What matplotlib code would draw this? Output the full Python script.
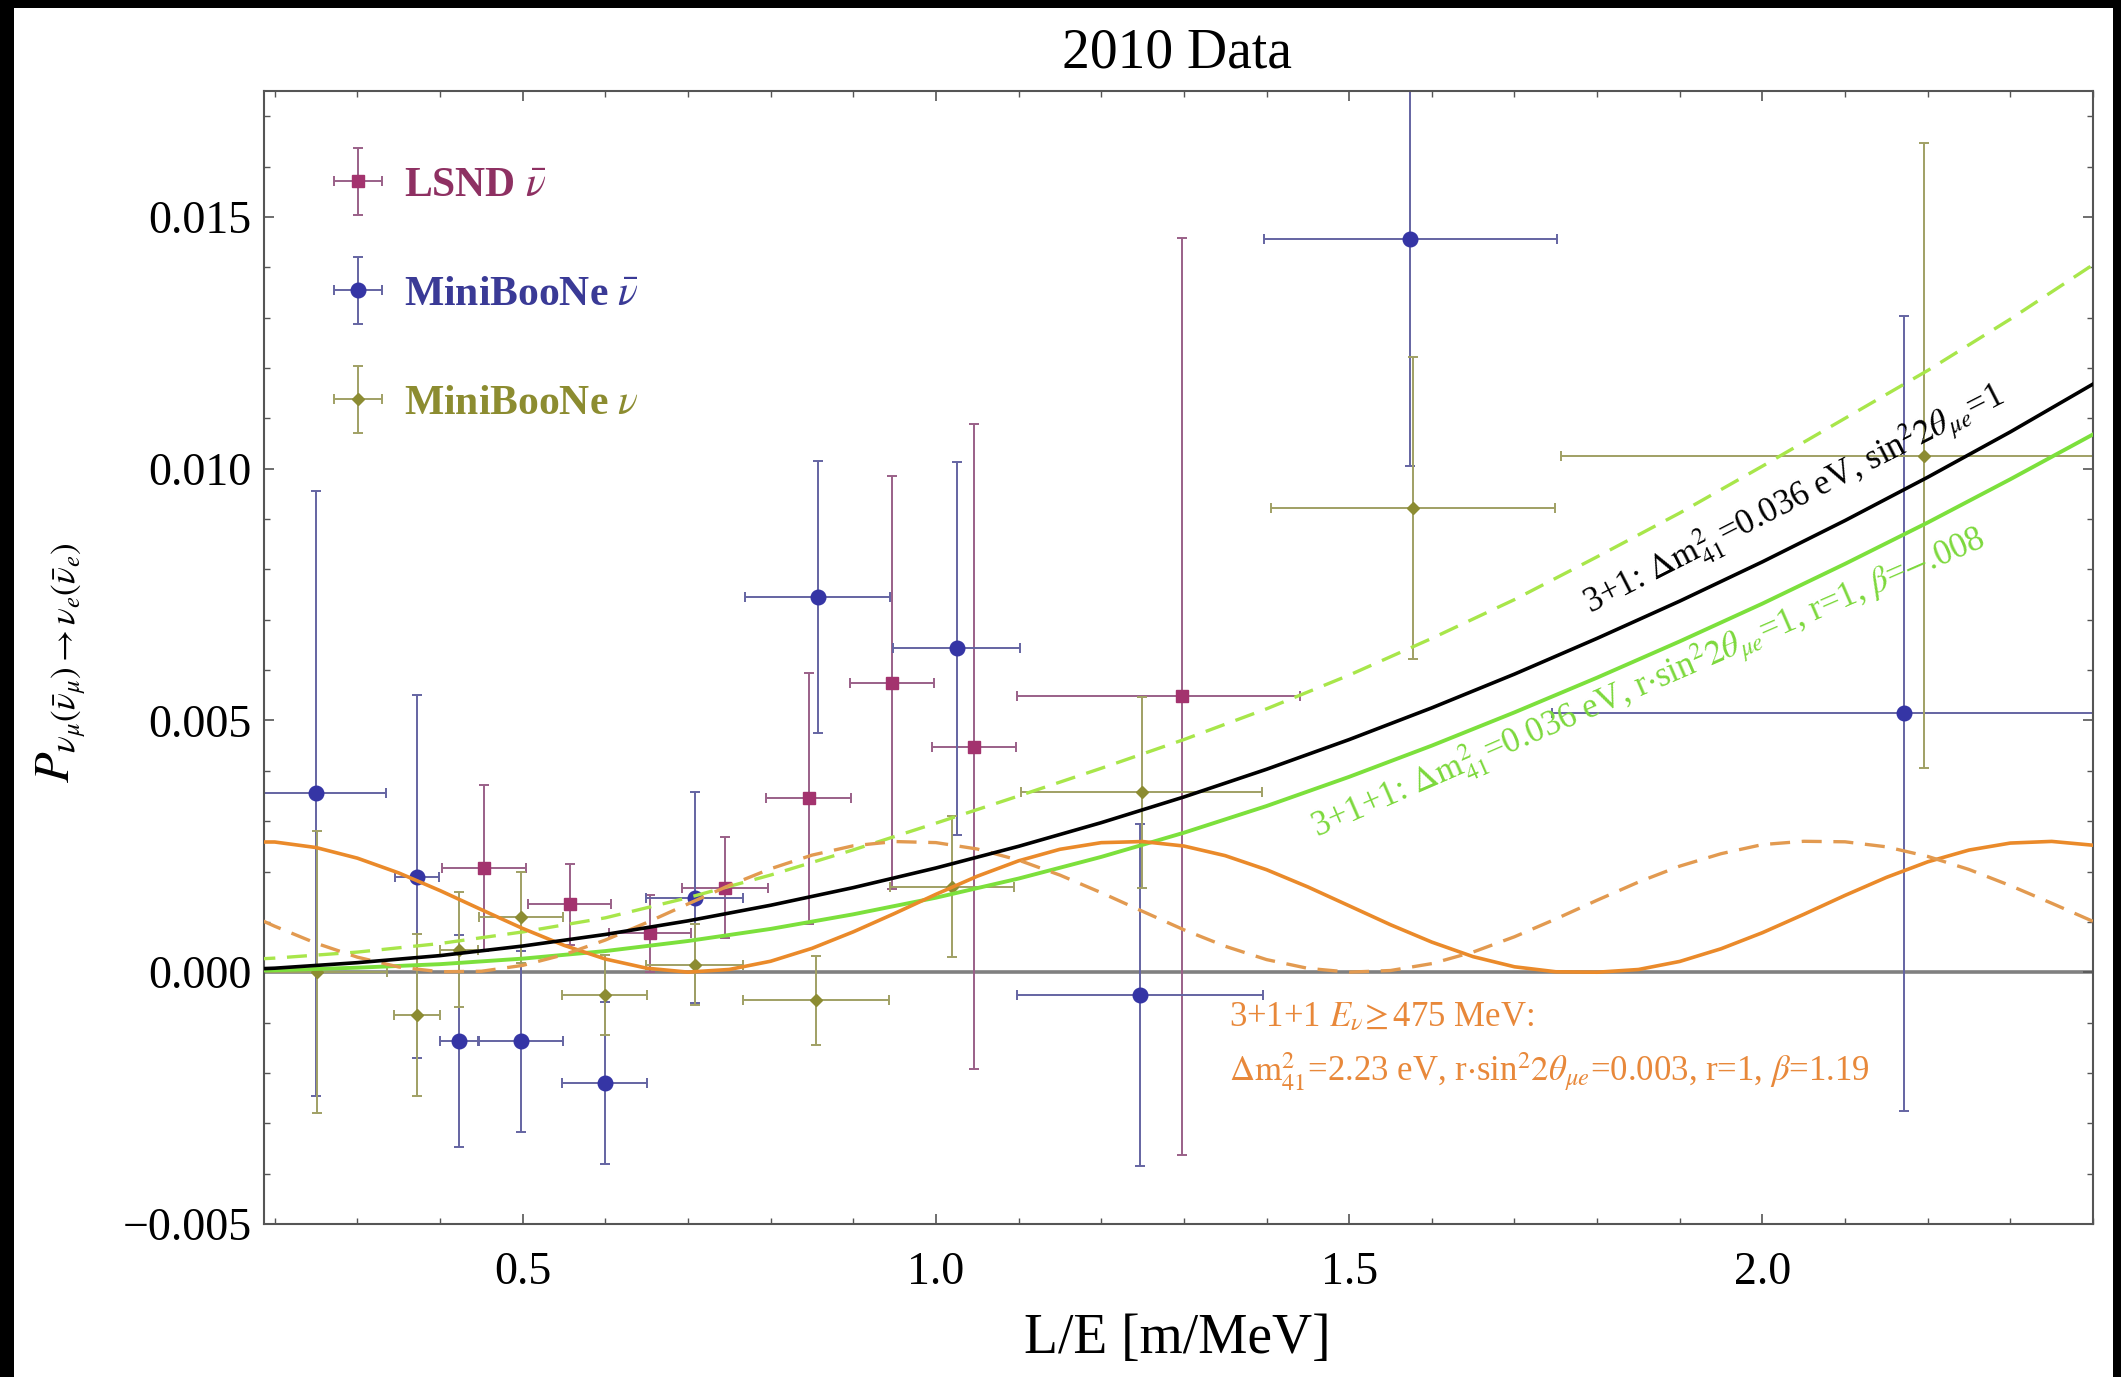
import matplotlib
matplotlib.use("Agg")
import matplotlib.pyplot as plt
import numpy as np
from matplotlib.patches import Rectangle
from matplotlib.ticker import MultipleLocator, FixedLocator, FuncFormatter, FormatStrFormatter
from matplotlib.legend_handler import HandlerErrorbar
from matplotlib.container import ErrorbarContainer

plt.rcParams['font.family'] = ['Liberation Serif', 'DejaVu Serif']
plt.rcParams['mathtext.fontset'] = 'stix'

# LSND anti-neutrino points
lsnd_le = [0.453, 0.557, 0.654, 0.745, 0.846, 0.947, 1.046, 1.298]
lsnd_p = [0.00207, 0.00135, 0.00077, 0.00168, 0.00345, 0.00575, 0.00448, 0.00548]
lsnd_dle_lo = [0.051, 0.050, 0.050, 0.052, 0.051, 0.051, 0.051, 0.200]
lsnd_dle_hi = [0.051, 0.050, 0.050, 0.052, 0.051, 0.051, 0.051, 0.143]
lsnd_dp = [0.00165, 0.0008, 0.00076, 0.0010, 0.0025, 0.0041, 0.0064, 0.0091]

# MiniBooNE anti-neutrino points
mbbar_le = [0.250, 0.372, 0.423, 0.498, 0.599, 0.708, 0.857, 1.025, 1.247, 1.574, 2.171]
mbbar_p = [0.00355, 0.0019, -0.00137, -0.00137, -0.0022, 0.00148, 0.00746, 0.00643,
           -0.00045, 0.01456, 0.00514]
mbbar_dle = [0.085, 0.027, 0.023, 0.051, 0.051, 0.059, 0.088, 0.077, 0.149, 0.177, 0.425]
mbbar_dp = [0.006, 0.0036, 0.0021, 0.0018, 0.0016, 0.0021, 0.0027, 0.0037, 0.0034, 0.0045, 0.0079]

# MiniBooNE neutrino points
mbnu_le = [0.251, 0.372, 0.423, 0.498, 0.599, 0.708, 0.855, 1.020, 1.249, 1.577, 2.196]
mbnu_p = [0.0, -0.00085, 0.00045, 0.00109, -0.00045, 0.00015, -0.00056, 0.0017,
          0.00357, 0.00922, 0.01026]
mbnu_dle = [0.085, 0.028, 0.023, 0.051, 0.051, 0.059, 0.088, 0.075, 0.146, 0.172, 0.44]
mbnu_dp = [0.0028, 0.0016, 0.00115, 0.0009, 0.0008, 0.0008, 0.00088, 0.0014, 0.0019, 0.003, 0.0062]

# model curves
le_smooth = np.linspace(0.1, 2.4, 24)
p_31 = [0.00002, 0.00008, 0.00019, 0.00033, 0.00052, 0.00075, 0.00102, 0.00133,
        0.00168, 0.00207, 0.00250, 0.00297, 0.00348, 0.00403, 0.00462, 0.00525,
        0.00592, 0.00663, 0.00737, 0.00815, 0.00897, 0.00983, 0.01073, 0.01168]
p_311_green = [0.00001, 0.00004, 0.00009, 0.00016, 0.00027, 0.00042, 0.00062, 0.00086,
               0.00115, 0.00148, 0.00186, 0.00229, 0.00277, 0.00330, 0.00388, 0.00450,
               0.00516, 0.00585, 0.00657, 0.00732, 0.00811, 0.00893, 0.00979, 0.01068]
p_311_green_dash = [0.00020, 0.00028, 0.00040, 0.00057, 0.00080, 0.00108, 0.00148, 0.00193,
                    0.00243, 0.00296, 0.00350, 0.00405, 0.00462, 0.00523, 0.00590, 0.00663,
                    0.00740, 0.00825, 0.00912, 0.01005, 0.01100, 0.01195, 0.01297, 0.01405]

le_osc = np.linspace(0.15, 2.4, 46)
p_311_orange = [0.002586, 0.002586, 0.002476, 0.002265, 0.001972, 0.001621, 0.001243, 0.000869,
                0.000534, 0.000262, 0.000080, 0.000002, 0.000055, 0.000218, 0.000474, 0.000802,
                0.001167, 0.001547, 0.001906, 0.002212, 0.002441, 0.002573, 0.002595, 0.002506,
                0.002315, 0.002036, 0.001694, 0.001319, 0.000943, 0.000598, 0.000309, 0.000108,
                0.000009, 0.000000, 0.000054, 0.000214, 0.000466, 0.000785, 0.001149, 0.001526,
                0.001883, 0.002192, 0.002426, 0.002565, 0.002598, 0.002522]
p_311_orange_dash = [0.001281, 0.000913, 0.000576, 0.000299, 0.000104, 0.000009, 0.000019, 0.000136,
                     0.000348, 0.000639, 0.000985, 0.001356, 0.001724, 0.002055, 0.002325, 0.002511,
                     0.002595, 0.002574, 0.002447, 0.002226, 0.001929, 0.001580, 0.001209, 0.000843,
                     0.000516, 0.000251, 0.000077, 0.000002, 0.000034, 0.000171, 0.000401, 0.000704,
                     0.001057, 0.001430, 0.001790, 0.002107, 0.002354, 0.002535, 0.002600, 0.002590,
                     0.002490, 0.002300, 0.002040, 0.001720, 0.001370, 0.001010]

y_ticks = [-0.005, 0.0, 0.005, 0.010, 0.015]

W, H = 2121, 1377
fig = plt.figure(figsize=(W / 100, H / 100), dpi=100, facecolor='black')
fig.add_artist(Rectangle((14 / W, 0), (2113 - 14) / W, 1 - 8 / H, transform=fig.transFigure,
                         facecolor='white', edgecolor='none', zorder=-10))
ax = fig.add_axes([264 / W, 153 / H, 1829 / W, 1133 / H])
ax.set_facecolor('white')

ax.axhline(0, color='#808080', lw=2.6, zorder=1.5)

eb = dict(elinewidth=1.4, capsize=3.5, capthick=1.4, zorder=2.5)
lsnd = ax.errorbar(lsnd_le, lsnd_p, xerr=[lsnd_dle_lo, lsnd_dle_hi], yerr=lsnd_dp, fmt='s', ms=9,
                   mfc='#a3336e', mec='#a3336e', ecolor='#9a6088', label=r'LSND $\bar{\nu}$', **eb)
mbbar = ax.errorbar(mbbar_le, mbbar_p, xerr=mbbar_dle, yerr=mbbar_dp, fmt='o', ms=10.5,
                    mfc='#3535a5', mec='#3535a5', ecolor='#6464a2', label=r'MiniBooNe $\bar{\nu}$', **eb)
mbnu = ax.errorbar(mbnu_le, mbnu_p, xerr=mbnu_dle, yerr=mbnu_dp, fmt='D', ms=6.5,
                   mfc='#8c8c32', mec='#8c8c32', ecolor='#a0a064', label=r'MiniBooNe $\nu$', **eb)

ax.plot(le_smooth, p_311_green_dash, color='#a8e64a', lw=2.4, dashes=(6, 3.5), zorder=3)
ax.plot(le_smooth, p_311_green, color='#7ce03c', lw=2.8, zorder=3)
ax.plot(le_smooth, p_31, color='black', lw=2.6, zorder=3.2)
ax.plot(le_osc, p_311_orange, color='#ea8a2a', lw=2.6, zorder=3.1)
ax.plot(le_osc, p_311_orange_dash, color='#e29a50', lw=2.4, dashes=(6, 3.5), zorder=3.1)

ax.text(1.792, 0.00710, r"3+1: $\Delta\mathrm{m}^2_{41}$=0.036 eV, sin$^2 2\theta_{\mu e}$=1",
        rotation=27, rotation_mode='anchor', ha='left', va='baseline', fontsize=25, color='black')
ax.text(1.461, 0.00266,
        r"3+1+1: $\Delta\mathrm{m}^2_{41}$=0.036 eV, r$\cdot$sin$^2 2\theta_{\mu e}$=1, r=1, $\beta$=$-$.008",
        rotation=23.5, rotation_mode='anchor', ha='left', va='baseline', fontsize=25, color='#7cd83c')
ax.text(1.354, -0.00107, r"3+1+1 $E_\nu\!\geq$475 MeV:", ha='left', va='baseline',
        fontsize=25, color='#e8883a')
ax.text(1.354, -0.00217,
        r"$\Delta\mathrm{m}^2_{41}$=2.23 eV, r$\cdot$sin$^2 2\theta_{\mu e}$=0.003, r=1, $\beta$=1.19",
        ha='left', va='baseline', fontsize=25, color='#e8883a')

ax.set_xlim(0.187, 2.4)
ax.set_ylim(-0.005, 0.0175)
ax.xaxis.set_major_locator(FixedLocator([0.5, 1.0, 1.5, 2.0]))
ax.xaxis.set_major_formatter(FormatStrFormatter('%.1f'))
ax.xaxis.set_minor_locator(MultipleLocator(0.1))
ax.yaxis.set_major_locator(FixedLocator(y_ticks))
ax.yaxis.set_major_formatter(FuncFormatter(lambda v, p: f"{v:.3f}".replace('-', '\u2212')))
ax.yaxis.set_minor_locator(MultipleLocator(0.001))
ax.tick_params(which='both', direction='in', top=True, right=True, color='#555555')
ax.tick_params(which='major', length=7, width=1.2, labelsize=33)
ax.tick_params(which='minor', length=4, width=1.0)
ax.tick_params(axis='x', pad=20)
ax.tick_params(axis='y', pad=9)
for s in ax.spines.values():
    s.set_color('#555555')
    s.set_linewidth(1.5)

ax.legend(handles=[lsnd, mbbar, mbnu], loc='upper left', bbox_to_anchor=(0.0377, 0.933),
          frameon=False, prop=dict(family='Liberation Serif', weight='bold', size=30),
          labelcolor=['#8e3062', '#3a3a96', '#8c8c30'], handlelength=1.2, handletextpad=0.5,
          labelspacing=1.7, borderpad=0, borderaxespad=0, numpoints=1,
          handler_map={ErrorbarContainer: HandlerErrorbar(xerr_size=0.58, yerr_size=0.8)})

fig.text(1177 / W, 1 - 68 / H, "2010 Data", ha='center', va='baseline', fontsize=40)
fig.text(1177 / W, 1 - 1353 / H, "L/E [m/MeV]", ha='center', va='baseline', fontsize=40)
fig.text(61 / W, 1 - 663 / H,
         r"$P_{\nu_\mu(\bar{\nu}_\mu)\rightarrow\nu_e(\bar{\nu}_e)}$",
         rotation=90, ha='center', va='center', fontsize=36)

fig.savefig("out.png", dpi=100, facecolor=fig.get_facecolor())
